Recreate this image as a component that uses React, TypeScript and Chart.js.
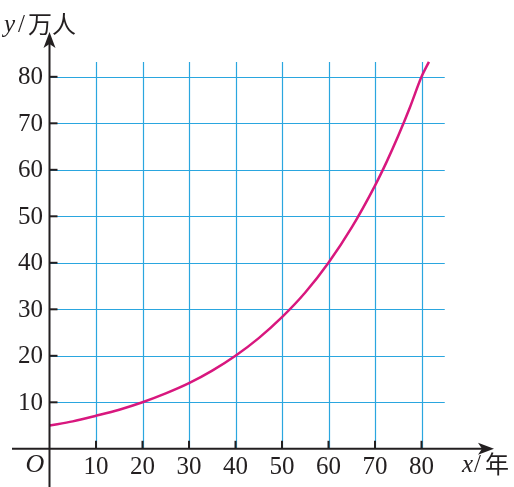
import React, { useEffect, useRef } from "react";
import { Chart, registerables } from "chart.js";

Chart.register(...registerables);

const xValues = [0, 5, 10, 15, 20, 25, 30, 35, 40, 45, 50, 55, 60, 65, 70, 72.5, 75, 77.5, 80, 81.6];
const yValues = [5, 5.9, 7.1, 8.4, 10, 11.9, 14.1, 16.8, 20, 23.8, 28.3, 33.6, 40, 47.6, 56.6, 61.7, 67.3, 73.4, 80, 83.2];
const xTicks = [10, 20, 30, 40, 50, 60, 70, 80];
const yTicks = [10, 20, 30, 40, 50, 60, 70, 80];
const gridMaxX = 85;
const gridMaxY = 83.2;

const GRID = "#2aa6df";
const CURVE = "#d8177e";
const AXIS = "#231f20";
const SERIF = '"Liberation Serif", "DejaVu Serif", serif';
const CJK = '"Noto Sans CJK SC", sans-serif';

const axesPlugin = {
  id: "mathAxes",
  beforeDatasetsDraw(chart: any) {
    const { ctx, scales } = chart;
    const xs = scales.x;
    const ys = scales.y;
    const x0 = xs.getPixelForValue(0);
    const y0 = ys.getPixelForValue(0);
    ctx.save();
    ctx.strokeStyle = GRID;
    ctx.lineWidth = 1.2;
    const top = ys.getPixelForValue(gridMaxY);
    const right = xs.getPixelForValue(gridMaxX);
    for (const t of xTicks) {
      const px = Math.round(xs.getPixelForValue(t)) + 0.5;
      ctx.beginPath();
      ctx.moveTo(px, y0);
      ctx.lineTo(px, top);
      ctx.stroke();
    }
    for (const t of yTicks) {
      const py = Math.round(ys.getPixelForValue(t)) + 0.5;
      ctx.beginPath();
      ctx.moveTo(x0, py);
      ctx.lineTo(right, py);
      ctx.stroke();
    }
    ctx.restore();
  },
  afterDatasetsDraw(chart: any) {
    const { ctx, scales } = chart;
    const xs = scales.x;
    const ys = scales.y;
    const x0 = xs.getPixelForValue(0);
    const y0 = ys.getPixelForValue(0);
    ctx.save();
    ctx.strokeStyle = AXIS;
    ctx.fillStyle = AXIS;
    ctx.lineWidth = 2;
    // x axis
    ctx.beginPath();
    ctx.moveTo(12, y0);
    ctx.lineTo(488, y0);
    ctx.stroke();
    ctx.beginPath();
    ctx.moveTo(494, y0);
    ctx.lineTo(478, y0 - 6);
    ctx.lineTo(482, y0);
    ctx.lineTo(478, y0 + 6);
    ctx.closePath();
    ctx.fill();
    // y axis
    ctx.beginPath();
    ctx.moveTo(x0, 487);
    ctx.lineTo(x0, 38);
    ctx.stroke();
    ctx.beginPath();
    ctx.moveTo(x0, 32);
    ctx.lineTo(x0 - 6, 48);
    ctx.lineTo(x0, 44);
    ctx.lineTo(x0 + 6, 48);
    ctx.closePath();
    ctx.fill();
    // tick marks
    ctx.lineWidth = 2;
    for (const t of xTicks) {
      const px = xs.getPixelForValue(t);
      ctx.beginPath();
      ctx.moveTo(px, y0);
      ctx.lineTo(px, y0 - 8);
      ctx.stroke();
    }
    for (const t of yTicks) {
      const py = ys.getPixelForValue(t);
      ctx.beginPath();
      ctx.moveTo(x0, py);
      ctx.lineTo(x0 + 8, py);
      ctx.stroke();
    }
    // labels
    ctx.font = `25px ${SERIF}`;
    ctx.textBaseline = "middle";
    ctx.textAlign = "right";
    for (const t of yTicks) {
      ctx.fillText(String(t), 43, ys.getPixelForValue(t) + 1);
    }
    ctx.textAlign = "center";
    for (const t of xTicks) {
      ctx.fillText(String(t), xs.getPixelForValue(t), 467);
    }
    ctx.font = `italic 26px ${SERIF}`;
    ctx.textAlign = "center";
    ctx.fillText("O", 35, 465);
    // x label
    ctx.textAlign = "left";
    ctx.font = `italic 25px ${SERIF}`;
    ctx.fillText("x", 462, 465);
    ctx.font = `25px ${SERIF}`;
    ctx.fillText("/", 474, 465);
    ctx.font = `24px ${CJK}`;
    ctx.fillText("年", 485, 464);
    // y label
    ctx.font = `italic 25px ${SERIF}`;
    ctx.fillText("y", 4, 25);
    ctx.font = `25px ${SERIF}`;
    ctx.fillText("/", 18, 25);
    ctx.font = `24px ${CJK}`;
    ctx.fillText("万人", 28, 24);
    ctx.restore();
  },
};

export default function App() {
  const ref = useRef<HTMLCanvasElement>(null);
  useEffect(() => {
    if (!ref.current) return;
    const pxPerUnit = 4.65;
    const originX = 49.5;
    const originY = 448.8;
    const chart = new Chart(ref.current, {
      type: "line",
      data: {
        datasets: [
          {
            data: xValues.map((x, i) => ({ x, y: yValues[i] })),
            borderColor: CURVE,
            borderWidth: 2.5,
            pointRadius: 0,
            fill: false,
            cubicInterpolationMode: "monotone",
          },
        ],
      },
      options: {
        animation: false,
        responsive: false,
        layout: { padding: 0 },
        plugins: { legend: { display: false }, tooltip: { enabled: false } },
        scales: {
          x: {
            type: "linear",
            display: false,
            min: -originX / pxPerUnit,
            max: (514 - originX) / pxPerUnit,
          },
          y: {
            type: "linear",
            display: false,
            min: -(487 - originY) / pxPerUnit,
            max: originY / pxPerUnit,
          },
        },
      },
      plugins: [axesPlugin],
    });
    return () => chart.destroy();
  }, []);
  return (
    <div style={{ position: "fixed", left: 0, top: 0, width: 514, height: 487, background: "#fff" }}>
      <canvas ref={ref} width={514} height={487} />
    </div>
  );
}
